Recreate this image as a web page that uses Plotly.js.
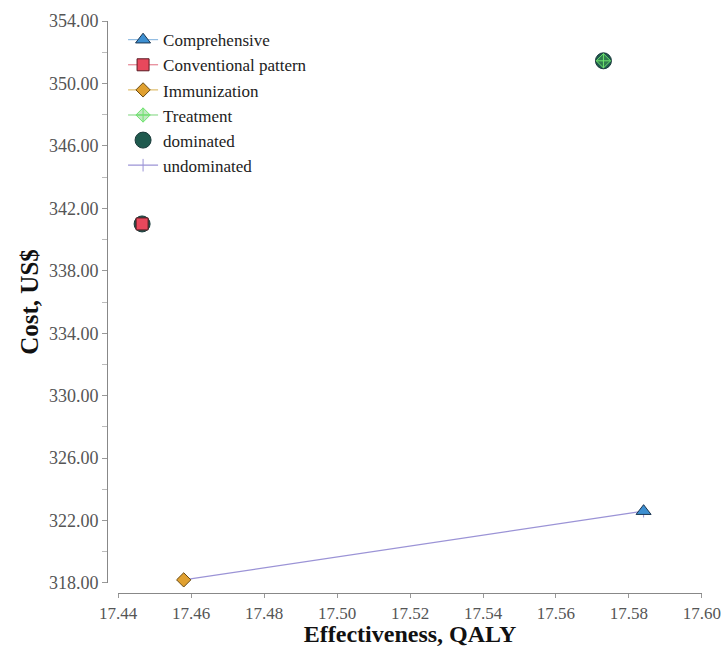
<!DOCTYPE html>
<html>
<head>
<meta charset="utf-8">
<script src="https://cdn.plot.ly/plotly-3.0.1.min.js"></script>
<style>html,body{margin:0;padding:0;background:#fff;}#chart{width:724px;height:647px;}</style>
</head>
<body>
<div id="chart"></div>
<script>
// Strategies: effectiveness (QALY) and cost (US$)
const strategies = ["Comprehensive", "Conventional pattern", "Immunization", "Treatment"];
const effectiveness = [17.584, 17.4466, 17.458, 17.573];
const cost = [322.6, 341.0, 318.2, 351.45];
// dominated strategies
const dominatedNames = ["Conventional pattern", "Treatment"];
// undominated frontier
const frontierNames = ["Immunization", "Comprehensive"];

const idx = n => strategies.indexOf(n);
const font = "Liberation Serif, Times New Roman, serif";

const colors = {
  "Comprehensive": {fill: "#3d8fd1", line: "#1b3550", leg: "#7aaedc", symbol: "triangle-up", size: 13},
  "Conventional pattern": {fill: "#e8485c", line: "#5a1a22", leg: "#e06a7c", symbol: "square", size: 12},
  "Immunization": {fill: "#e0a030", line: "#6a4a10", leg: "#d8b050", symbol: "diamond", size: 11},
  "Treatment": {fill: "rgba(80,190,80,0.35)", line: "#6ee46e", leg: "#7cd47c", symbol: "diamond-cross", size: 11}
};

const traces = [];
// undominated line (drawn first)
traces.push({
  name: "undominated", x: frontierNames.map(n => effectiveness[idx(n)]), y: frontierNames.map(n => cost[idx(n)]),
  mode: "lines+markers", line: {color: "#9b93d6", width: 1.3},
  marker: {symbol: "line-ns-open", size: 9, color: "#9b93d6", line: {color: "#9b93d6", width: 1}},
  legendrank: 6, cliponaxis: false
});
// dominated circles
traces.push({
  name: "dominated", x: dominatedNames.map(n => effectiveness[idx(n)]), y: dominatedNames.map(n => cost[idx(n)]),
  mode: "markers", marker: {symbol: "circle", size: 16, color: "#1f5a4e", line: {color: "#1a3a3a", width: 1}},
  legendrank: 5, cliponaxis: false
});
strategies.forEach((s, i) => {
  const c = colors[s];
  traces.push({
    name: s, x: [effectiveness[i]], y: [cost[i]], mode: "lines+markers",
    line: {color: c.leg, width: 1},
    marker: {symbol: c.symbol, size: c.size, color: c.fill, line: {color: c.line, width: 1}},
    legendrank: i + 1, cliponaxis: false
  });
});

const layout = {
  width: 724, height: 647,
  margin: {l: 107, r: 22, t: 21, b: 54},
  paper_bgcolor: "#fff", plot_bgcolor: "#fff",
  font: {family: font, size: 17, color: "#444"},
  showlegend: true,
  legend: {x: 0.027, y: 0.998, xanchor: "left", yanchor: "top", bgcolor: "rgba(0,0,0,0)",
    font: {family: font, size: 17, color: "#222"}, tracegroupgap: 0},
  xaxis: {
    range: [17.44, 17.60], domain: [0.0185, 1], anchor: "free", position: 0,
    tickvals: [17.44, 17.46, 17.48, 17.50, 17.52, 17.54, 17.56, 17.58, 17.60],
    tickformat: ".2f", showgrid: false, zeroline: false,
    showline: true, linecolor: "#888", linewidth: 1.3,
    ticks: "outside", ticklen: 4, tickcolor: "#999",
    tickfont: {family: font, size: 17, color: "#555"},
    title: {text: "<b>Effectiveness, QALY</b>", font: {family: font, size: 24, color: "#111"}, standoff: 9}
  },
  yaxis: {
    range: [318, 354], domain: [0.0175, 1], anchor: "free", position: 0,
    dtick: 4, tick0: 318, tickformat: ".2f", showgrid: false, zeroline: false,
    showline: true, linecolor: "#888", linewidth: 1.3,
    ticks: "outside", ticklen: 5, tickcolor: "#999",
    minor: {dtick: 2, tick0: 318, ticks: "outside", ticklen: 5, tickcolor: "#bbb"},
    tickfont: {family: font, size: 18, color: "#555"},
    title: {text: "<b>Cost, US$</b>", font: {family: font, size: 25, color: "#111"}, standoff: 1}
  }
};

Plotly.newPlot("chart", traces, layout, {displayModeBar: false, staticPlot: true});
</script>
</body>
</html>
